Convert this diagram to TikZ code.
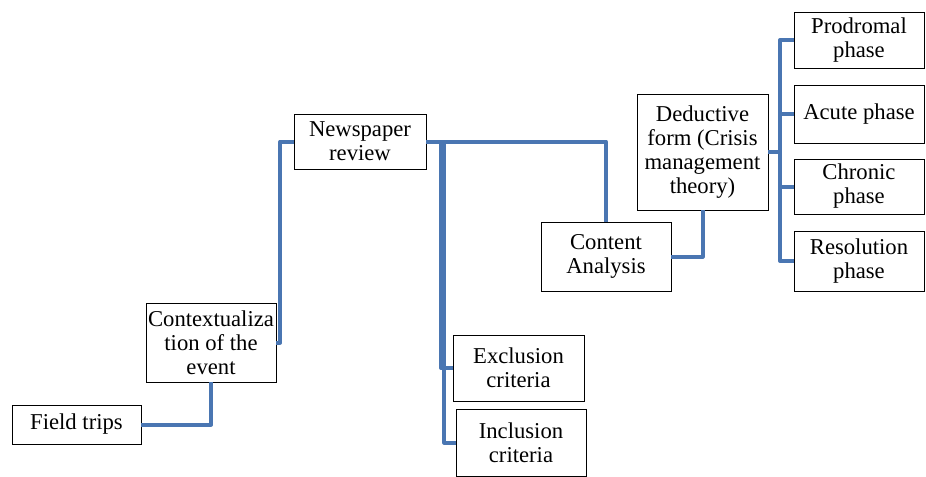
\documentclass[tikz,border=0pt]{standalone}
\usepackage{fontspec}
\setmainfont{Liberation Serif}
\newfontfamily\boxfont{Liberation Serif}
\usepackage{tikz}
\usetikzlibrary{positioning,calc}
\definecolor{linkblue}{RGB}{74,118,178}
\tikzset{
    box/.style={draw, thin, fill=white, align=center, inner sep=1pt, font=\boxfont\fontsize{17}{18}\selectfont},
    link/.style={draw=linkblue, line width=3pt, line join=round}
}

\begin{document}
\begin{tikzpicture}[x=0.75pt, y=-0.75pt]
    \useasboundingbox (0,0) rectangle (926,476);
    % left part
    \node[box, minimum width=97pt, minimum height=29pt] (trips) at (76.5,424.5) {Field trips};
    \node[box, minimum width=97.5pt, minimum height=59pt] (context) at (211,342.5) {Contextualiza\\tion of the\\event};
    \node[box, minimum width=99pt, minimum height=41pt] (news) at (360,141.5) {Newspaper\\review};
    \node[box, minimum width=98pt, minimum height=49.5pt] (excl) at (518.5,368) {Exclusion\\criteria};
    \node[box, minimum width=97.5pt, minimum height=50pt] (incl) at (521,442.5) {Inclusion\\criteria};

    % right part
    \node[box, minimum width=97.5pt, minimum height=52pt] (content) at (606,256.5) {Content\\Analysis};
    \node[box, minimum width=98pt, minimum height=87pt] (deduct) at (702.5,152) {Deductive\\form (Crisis\\management\\theory)};
    \node[box, minimum width=97.5pt, minimum height=42pt] (prodromal) at (859,40) {Prodromal\\phase};
    \node[box, minimum width=97.5pt, minimum height=43.5pt] (acute) at (859,114) {Acute phase};
    \node[box, minimum width=97.5pt, minimum height=41pt] (chronic) at (859,186.5) {Chronic\\phase};
    \node[box, minimum width=97.5pt, minimum height=45pt] (resolution) at (859,261) {Resolution\\phase};

    % connectors
    \draw[link] (trips.east) -| (context.south);
    \draw[link] (context.east) -- ++(4,0) |- (news.west);
    \draw[link] (news.east) -| (content.north);
    \draw[link] (news.east) -- ++(15,0) |- (excl.west);
    \draw[link] (news.east) -- ++(18,0) |- (incl.west);
    \draw[link] (content.east) -| (deduct.south);
    \draw[link] (deduct.east) -- ++(12,0) coordinate (hub);
    \foreach \p in {prodromal,acute,chronic,resolution}
        \draw[link] (hub) |- (\p.west);
\end{tikzpicture}
\end{document}
